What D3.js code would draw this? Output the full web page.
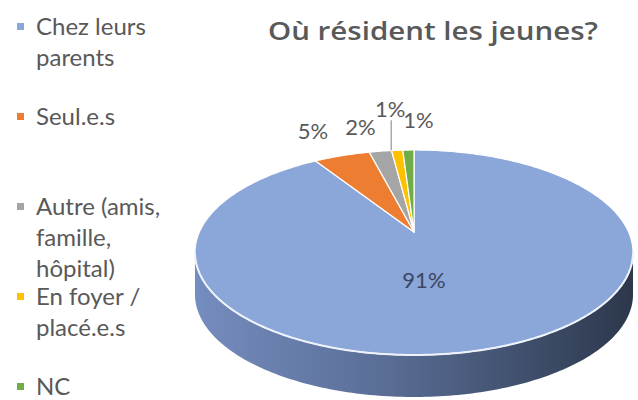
<!DOCTYPE html>
<html>
<head>
<meta charset="utf-8">
<script src="https://cdn.jsdelivr.net/npm/d3@7"></script>
<style>
  body { margin: 0; background: #fff; }
  svg { display: block; }
</style>
</head>
<body>
<div id="chart"></div>
<script>
// data
const categories = [
  "Chez leurs parents",
  "Seul.e.s",
  "Autre (amis, famille, hôpital)",
  "En foyer / placé.e.s",
  "NC",
];
const legendLines = [
  ["Chez leurs", "parents"],
  ["Seul.e.s"],
  ["Autre (amis,", "famille,", "hôpital)"],
  ["En foyer /", "placé.e.s"],
  ["NC"],
];
const values = [91, 5, 2, 1, 1];
const sliceColors = ["#8ba6d9", "#ed7d31", "#a5a5a5", "#ffc000", "#70ad47"];
const title = "Où résident les jeunes?";

const width = 638;
const height = 400;

const svg = d3
  .select("#chart")
  .append("svg")
  .attr("width", width)
  .attr("height", height);

const color = d3.scaleOrdinal().domain(categories).range(sliceColors);

// pseudo 3d pie: disc seen in perspective, then extruded down
const cx = 414,
  cy = 232,
  sx = 214.6,
  sy = 98.4,
  persp = 0.2,
  depth = 42;

function proj(theta, r) {
  const u = r * Math.sin(theta);
  const v = -r * Math.cos(theta);
  const w = 1 - persp * v;
  return [cx + (sx * u) / w, cy + (sy * v) / w];
}

function arcPoints(a0, a1, r) {
  const n = Math.max(2, Math.ceil(((a1 - a0) * 180) / Math.PI));
  return d3.range(n + 1).map((i) => proj(a0 + ((a1 - a0) * i) / n, r));
}

const pie = d3.pie().sort(null).value((d) => d.value);
const arcs = pie(categories.map((c, i) => ({ name: c, value: values[i] })));

// visible front of the side wall
const frontA0 = Math.acos(-persp);
const frontA1 = 2 * Math.PI - frontA0;

const defs = svg.append("defs");
const grad = defs
  .append("linearGradient")
  .attr("id", "sideGrad")
  .attr("gradientUnits", "userSpaceOnUse")
  .attr("x1", cx - 220)
  .attr("x2", cx + 220)
  .attr("y1", 0)
  .attr("y2", 0);
grad.append("stop").attr("offset", "0%").attr("stop-color", "#758dbf");
grad.append("stop").attr("offset", "45%").attr("stop-color", "#586c94");
grad.append("stop").attr("offset", "100%").attr("stop-color", "#2c374b");

const line = d3.line();

// side walls
const sideLayer = svg.append("g").attr("id", "sideLayer");
arcs.forEach(function (d) {
  const a0 = Math.max(d.startAngle, frontA0);
  const a1 = Math.min(d.endAngle, frontA1);
  if (a1 <= a0) return;
  const top = arcPoints(a0, a1, 1);
  const bottom = top.map((p) => [p[0], p[1] + depth]).reverse();
  sideLayer
    .append("path")
    .attr("d", line(top.concat(bottom)) + "Z")
    .attr("fill", d.index === 0 ? "url(#sideGrad)" : d3.color(color(d.data.name)).darker(1));
});

// top faces
const topLayer = svg.append("g").attr("id", "topLayer");
topLayer
  .selectAll("path")
  .data(arcs)
  .enter()
  .append("path")
  .attr("d", function (d) {
    const pts = [proj(0, 0)].concat(arcPoints(d.startAngle, d.endAngle, 1));
    return line(pts) + "Z";
  })
  .attr("fill", (d) => color(d.data.name))
  .attr("stroke", "#fff")
  .attr("stroke-width", 1.2)
  .attr("stroke-linejoin", "round");

// light rim along the front edge
svg
  .append("path")
  .attr("d", line(arcPoints(frontA0, frontA1, 1)))
  .attr("fill", "none")
  .attr("stroke", "#eef2fb")
  .attr("stroke-width", 2);

// data labels (offsets mimic excel's best fit placement)
const labelOffset = [
  [-16, 7],
  [-29, -24],
  [-20, -24],
  [-7, -41],
  [10, -30],
];
const labelLayer = svg.append("g").attr("id", "labelLayer");
arcs.forEach(function (d, i) {
  const mid = (d.startAngle + d.endAngle) / 2;
  const p = i === 0 ? proj(mid, 0.4) : proj(mid, 1);
  const lx = p[0] + labelOffset[i][0];
  const ly = p[1] + labelOffset[i][1];
  if (i === 3) {
    labelLayer
      .append("line")
      .attr("x1", lx + 1)
      .attr("x2", lx + 1)
      .attr("y1", ly + 11)
      .attr("y2", p[1])
      .attr("stroke", "#7f7f7f")
      .attr("stroke-width", 1);
  }
  labelLayer
    .append("text")
    .attr("x", lx)
    .attr("y", ly)
    .attr("dy", "0.35em")
    .attr("text-anchor", "middle")
    .attr("font-family", "Lato, 'Open Sans', sans-serif")
    .attr("font-size", 22)
    .attr("fill", i === 0 ? "#3b4760" : "#595959")
    .text(Math.round(d.data.value) + "%");
});

// title
svg
  .append("text")
  .attr("x", 268)
  .attr("y", 40)
  .attr("textLength", 330)
  .attr("lengthAdjust", "spacingAndGlyphs")
  .attr("font-family", "'Open Sans', sans-serif")
  .attr("font-weight", 600)
  .attr("font-size", 26)
  .attr("fill", "#595959")
  .text(title);

// legend, entries spread evenly down the left side
const legendY = d3.scaleLinear().domain([0, categories.length - 1]).range([35, 395]);
const lineStep = 31;
const legend = svg.append("g").attr("id", "legend");
const entry = legend
  .selectAll("g")
  .data(categories)
  .enter()
  .append("g")
  .attr("transform", (d, i) => `translate(0,${legendY(i)})`);
entry
  .append("rect")
  .attr("x", 17)
  .attr("y", -12)
  .attr("width", 7)
  .attr("height", 7)
  .attr("fill", (d) => color(d));
entry
  .append("text")
  .attr("font-family", "Lato, 'Open Sans', sans-serif")
  .attr("font-size", 24)
  .attr("fill", "#595959")
  .selectAll("tspan")
  .data((d, i) => legendLines[i])
  .enter()
  .append("tspan")
  .attr("x", 36)
  .attr("y", (d, j) => j * lineStep)
  .text((d) => d);
</script>
</body>
</html>
